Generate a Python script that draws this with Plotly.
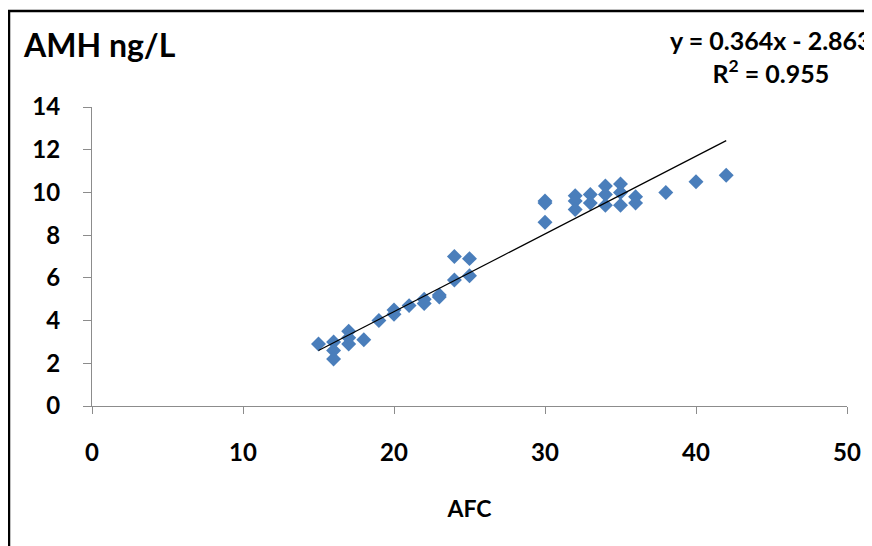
import numpy as np
import plotly.graph_objects as go

# Data
afc = [15, 16, 16, 16, 17, 17, 17, 18, 19, 20, 20, 21, 22, 22, 23, 23,
       24, 24, 25, 25, 30, 30, 30, 32, 32, 32, 33, 33, 34, 34, 34,
       35, 35, 35, 36, 36, 38, 40, 42]
amh = [2.9, 3.0, 2.6, 2.2, 3.5, 3.2, 2.9, 3.1, 4.0, 4.5, 4.3, 4.7, 5.0, 4.8, 5.2, 5.1,
       7.0, 5.9, 6.9, 6.1, 9.6, 9.5, 8.6, 9.85, 9.6, 9.2, 9.9, 9.5, 10.3, 9.9, 9.4,
       10.4, 10.0, 9.4, 9.8, 9.5, 10.0, 10.5, 10.8]
slope = 0.364
intercept = -2.863
r_squared = 0.955
x_ticks = [0, 10, 20, 30, 40, 50]
y_ticks = [0, 2, 4, 6, 8, 10, 12, 14]

W, H = 872, 546
OFF = 8  # page body margin offset
L, R, T, B = 92 - OFF, 25 + OFF, 107 - OFF, 140 + OFF
pw, ph = W - L - R, H - T - B

def px(x):
    return (x - OFF - L) / pw

def py(y):
    return (H - B - (y - OFF)) / ph

FONT = "Lato"
blue = "#4A7EBB"

xfit = np.array([min(afc), max(afc)])
yfit = slope * xfit + intercept

fig = go.Figure()
fig.add_trace(go.Scatter(x=afc, y=amh, mode="markers",
                         marker=dict(symbol="diamond", size=11.5, color=blue,
                                     line=dict(width=0)),
                         showlegend=False))
fig.add_trace(go.Scatter(x=xfit, y=yfit, mode="lines",
                         line=dict(color="black", width=1.2),
                         showlegend=False))

fig.update_layout(
    width=W, height=H,
    margin=dict(l=L, r=R, t=T, b=B),
    paper_bgcolor="white", plot_bgcolor="white",
    xaxis=dict(range=[0, 50], tickvals=x_ticks, showgrid=False, zeroline=False,
               automargin=False,
               showline=True, linecolor="#8C8C8C", linewidth=1,
               ticks="outside", ticklen=7, tickcolor="#8C8C8C",
               tickfont=dict(family=FONT, size=24, color="black", weight="bold"),
               ticklabelstandoff=18,
               title=dict(text="AFC", font=dict(family=FONT, size=23, color="black", weight="bold"),
                          standoff=36)),
    yaxis=dict(range=[0, 14], tickvals=y_ticks, showgrid=False, zeroline=False,
               automargin=False,
               showline=True, linecolor="#8C8C8C", linewidth=1,
               ticks="outside", ticklen=8, tickcolor="#8C8C8C",
               tickfont=dict(family=FONT, size=24, color="black", weight="bold"),
               ticklabelstandoff=18),
    font=dict(family=FONT),
)

# Title (axis label at top-left)
fig.add_annotation(text="AMH ng/L", xref="paper", yref="paper",
                   x=px(21), y=py(45), xanchor="left", yanchor="middle",
                   showarrow=False,
                   font=dict(family=FONT, size=32, color="black", weight="bold"))

# Trendline equation
fig.add_annotation(text=f"y = {slope}x - {abs(intercept)}<br>R<sup>2</sup> = {r_squared}",
                   xref="paper", yref="paper", x=px(771), y=py(57),
                   xanchor="center", yanchor="middle", showarrow=False, align="center",
                   font=dict(family=FONT, size=25, color="black", weight="bold"))

# Chart border (cropped)
fig.add_shape(type="rect", xref="paper", yref="paper",
              x0=px(9), x1=px(W + 20), y0=py(H + 20), y1=py(11),
              line=dict(color="black", width=2.5), fillcolor="rgba(0,0,0,0)", layer="above")

fig.write_html("out.html")
